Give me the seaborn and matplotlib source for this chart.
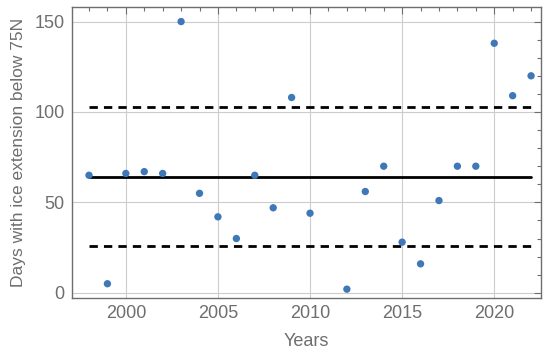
import numpy as np
import pandas as pd
import matplotlib
matplotlib.use("Agg")
import matplotlib.pyplot as plt
from matplotlib.ticker import MultipleLocator
import seaborn as sns

# dados
anos = [1998, 1999, 2000, 2001, 2002, 2003, 2004, 2005, 2006, 2007, 2008, 2009,
        2010, 2012, 2013, 2014, 2015, 2016, 2017, 2018, 2019, 2020, 2021, 2022]
dias = [65, 5, 66, 67, 66, 150, 55, 42, 30, 65, 47, 108,
        44, 2, 56, 70, 28, 16, 51, 70, 70, 138, 109, 120]
media = 64.3
limite_sup = 102.5
limite_inf = 26.0

df = pd.DataFrame({"ano": anos, "dias": dias})

sns.set_style("white")
plt.rcParams["font.family"] = ["Liberation Sans", "DejaVu Sans"]

cinza = "#6e6e6e"
fig, ax = plt.subplots(figsize=(5.5, 3.55), dpi=100)

sns.scatterplot(data=df, x="ano", y="dias", ax=ax, color="#3f78b8",
                s=28, edgecolor="none", zorder=3)

x0, x1 = min(anos), max(anos)
ax.plot([x0, x1], [media, media], color="black", lw=2, zorder=2)
ax.plot([x0, x1], [limite_sup, limite_sup], color="black", lw=2,
        ls=(0, (3, 2.2)), zorder=2)
ax.plot([x0, x1], [limite_inf, limite_inf], color="black", lw=2,
        ls=(0, (3, 2.2)), zorder=2)

ax.set_xlim(1997.05, 2022.55)
ax.set_ylim(-3, 158)
ax.xaxis.set_major_locator(MultipleLocator(5))
ax.xaxis.set_minor_locator(MultipleLocator(1))
ax.yaxis.set_major_locator(MultipleLocator(50))
ax.yaxis.set_minor_locator(MultipleLocator(10))

ax.grid(True, which="major", color="#cccccc", lw=0.8, zorder=0)
ax.set_axisbelow(True)

ax.tick_params(which="both", direction="in", top=True, right=True,
               colors=cinza, labelcolor=cinza, labelsize=13, width=0.8)
ax.tick_params(which="major", length=5, pad=5)
ax.tick_params(which="minor", length=3)
for sp in ax.spines.values():
    sp.set_color(cinza)
    sp.set_linewidth(1)

ax.set_xlabel("Years", color=cinza, fontsize=13, labelpad=8)
ax.set_ylabel("Days with ice extension below 75N", color=cinza, fontsize=12.5,
              labelpad=6)

fig.subplots_adjust(left=0.13, right=0.984, top=0.98, bottom=0.16)
fig.savefig("out.png", dpi=100)
